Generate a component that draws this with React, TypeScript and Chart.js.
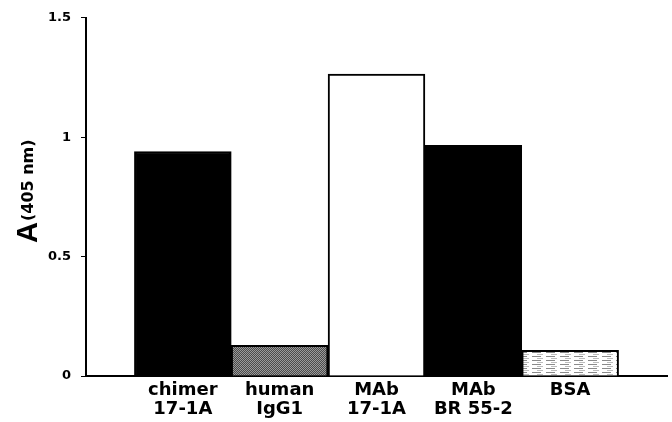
import React, { useEffect, useRef } from "react";
import { Chart, registerables } from "chart.js";

Chart.register(...registerables);

const categories: string[][] = [
  ["chimer", "17-1A"],
  ["human", "IgG1"],
  ["MAb", "17-1A"],
  ["MAb", "BR 55-2"],
  ["BSA"],
];
const absorbance: number[] = [0.94, 0.128, 1.264, 0.966, 0.108];
const yTicks: number[] = [0, 0.5, 1, 1.5];
const yTitleMain = "A";
const yTitleSub = "(405 nm)";

function makeStipple(): CanvasPattern | string {
  const c = document.createElement("canvas");
  c.width = 2;
  c.height = 2;
  const g = c.getContext("2d");
  if (!g) return "#6e6e6e";
  g.fillStyle = "#4a4a4a";
  g.fillRect(0, 0, 2, 2);
  g.fillStyle = "#9a9a9a";
  g.fillRect(0, 0, 1, 1);
  g.fillRect(1, 1, 1, 1);
  return g.createPattern(c, "repeat") || "#6e6e6e";
}

function makeStreaks(): CanvasPattern | string {
  const c = document.createElement("canvas");
  c.width = 14;
  c.height = 4;
  const g = c.getContext("2d");
  if (!g) return "#e0e0e0";
  g.fillStyle = "#ffffff";
  g.fillRect(0, 0, 14, 4);
  g.fillStyle = "#8a8a8a";
  g.fillRect(0, 0, 9, 1);
  g.fillStyle = "#bdbdbd";
  g.fillRect(5, 2, 6, 1);
  return g.createPattern(c, "repeat") || "#e0e0e0";
}

const yTitlePlugin = {
  id: "yTitleMixed",
  afterDraw(chart: any) {
    const ctx = chart.ctx;
    ctx.save();
    ctx.translate(37, 243);
    ctx.rotate(-Math.PI / 2);
    ctx.fillStyle = "#000";
    ctx.textAlign = "left";
    ctx.textBaseline = "alphabetic";
    ctx.font = "bold 29px 'Liberation Sans', Arial, sans-serif";
    ctx.fillText(yTitleMain, 0, 0);
    const w = ctx.measureText(yTitleMain).width;
    ctx.font = "bold 16px 'DejaVu Sans', sans-serif";
    ctx.fillText(yTitleSub, w + 1, -4);
    ctx.restore();
  },
};

export default function App() {
  const ref = useRef<HTMLCanvasElement | null>(null);

  useEffect(() => {
    document.body.style.margin = "0";
    const canvas = ref.current;
    if (!canvas) return;
    const stipple = makeStipple();
    const streaks = makeStreaks();
    const labels: any[] = ["", ...categories, ""];
    const data: (number | null)[] = [null, ...absorbance, null];
    const fills: any[] = ["#fff", "#000", stipple, "#fff", "#000", streaks, "#fff"];

    const chart = new Chart(canvas, {
      type: "bar",
      data: {
        labels,
        datasets: [
          {
            data,
            backgroundColor: fills,
            borderColor: "#000",
            borderWidth: 2,
            borderSkipped: "bottom",
            barPercentage: 1,
            categoryPercentage: 1,
          },
        ],
      },
      options: {
        responsive: false,
        animation: false,
        devicePixelRatio: 1,
        layout: { padding: { top: 14, right: 5, left: 0, bottom: 0 } },
        plugins: {
          legend: { display: false },
          tooltip: { enabled: false },
        },
        scales: {
          x: {
            type: "category",
            offset: false,
            grid: { display: false, drawTicks: false },
            border: { display: true, color: "#000", width: 2 },
            ticks: {
              color: "#000",
              autoSkip: false,
              maxRotation: 0,
              minRotation: 0,
              padding: 5,
              font: { family: "'DejaVu Sans', sans-serif", size: 18, weight: "bold", lineHeight: 1.05 },
            },
            afterFit: (s: any) => {
              s.height = 46;
            },
          },
          y: {
            min: 0,
            max: 1.5,
            grid: {
              display: true,
              drawOnChartArea: false,
              drawTicks: true,
              tickLength: 5,
              color: "#000",
              lineWidth: 1,
            },
            border: { display: true, color: "#000", width: 2 },
            afterBuildTicks: (s: any) => {
              s.ticks = yTicks.map((v) => ({ value: v }));
            },
            ticks: {
              color: "#000",
              padding: 10,
              font: { family: "'DejaVu Sans', sans-serif", size: 13, weight: "bold" },
              callback: (v: any) => String(v),
            },
            afterFit: (s: any) => {
              s.width = 86;
            },
          },
        },
      },
      plugins: [yTitlePlugin],
    });
    return () => chart.destroy();
  }, []);

  return (
    <div style={{ width: 672, height: 422 }}>
      <canvas ref={ref} width={672} height={422} style={{ display: "block" }} />
    </div>
  );
}
